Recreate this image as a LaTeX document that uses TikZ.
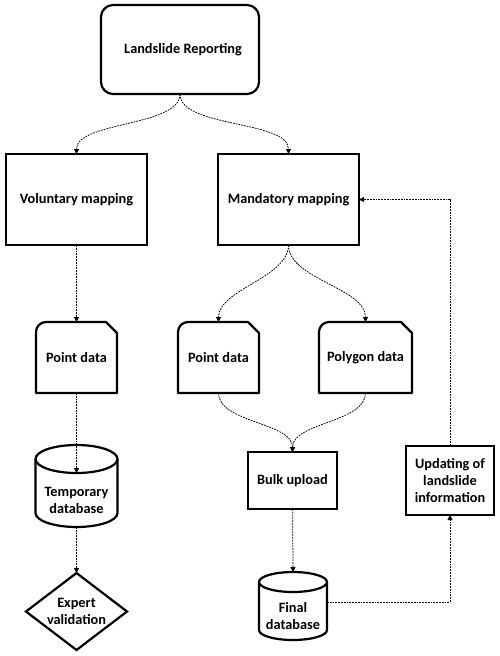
\documentclass[tikz,border=0pt]{standalone}
\usepackage{fontspec}
\setmainfont{Carlito}
\usepackage{tikz}
\usetikzlibrary{arrows.meta,shapes.geometric}

\begin{document}
\begin{tikzpicture}[x=1pt,y=1pt,
  base/.style={align=center,inner sep=0pt,outer sep=0pt,
               font=\bfseries\fontsize{14.3}{17}\selectfont},
  box/.style={base,draw,line width=2.2pt},
  startbox/.style={box,rounded corners=12pt,minimum width=158pt,minimum height=89pt},
  mapbox/.style={box,minimum width=141pt,minimum height=91pt},
  docnode/.style={base,minimum width=81pt,minimum height=71pt},
  dbnode/.style={base},
  decision/.style={box,diamond,aspect=1.3,minimum width=101pt,minimum height=77pt},
  outline/.style={line width=2.2pt,line join=round},
  arrow/.style={-{Triangle[length=5pt,width=5pt]},line width=0.75pt,
                dash pattern=on 1.8pt off 1pt}
]
\useasboundingbox (0,0) rectangle (500,-656);

% Reporting and the two mapping routes.
\node[startbox] (report) at (180,-49.5) {\hspace{6pt}Landslide Reporting};
\node[mapbox] (voluntary) at (76.5,-199.5) {Voluntary mapping};
\node[mapbox] (mandatory) at (288.5,-199.5) {Mandatory mapping};

% Data documents.
\node[docnode] (vpoint) at (76.5,-357.5) {Point data};
\node[docnode] (mpoint) at (218.5,-357.5) {Point data};
\node[docnode,minimum width=93pt] (poly) at (365.5,-357.5) {Polygon data};
\foreach \n in {vpoint,mpoint,poly}
  \draw[outline] (\n.south west) -- ([yshift=-10pt]\n.north west)
    arc[start angle=180,end angle=90,radius=10pt] -- ([xshift=-11pt]\n.north east)
    -- ([yshift=-11pt]\n.north east) -- (\n.south east) -- cycle;

% Databases, upload and checks.
\node[dbnode,minimum width=82pt,minimum height=54pt] (tempdb) at (76.5,-500)
  {Temporary\\database};
\node[dbnode,minimum width=68pt,minimum height=48pt] (finaldb) at (293,-616)
  {Final\\database};
\foreach \n/\rx/\ry in {tempdb/41/14,finaldb/34/10} {
  \draw[outline] ([yshift=\ry pt]\n.north west) -- ([yshift=\ry pt]\n.south west)
    arc[start angle=180,end angle=360,x radius=\rx,y radius=\ry]
    -- ([yshift=\ry pt]\n.north east);
  \draw[outline] ([yshift=\ry pt]\n.north) ellipse[x radius=\rx,y radius=\ry];
}
\node[box,minimum width=89pt,minimum height=57pt] (bulk) at (292.5,-480.5) {Bulk upload};
\node[box,minimum width=88pt,minimum height=69pt] (update) at (450,-480.5)
  {Updating of\\landslide\\information};
\node[decision] (expert) at (76.5,-611.5) {Expert\\validation};

% Flow.
\draw[arrow] (report.south) to[out=-90,in=90,looseness=0.7] (voluntary.north);
\draw[arrow] (report.south) to[out=-90,in=90,looseness=0.7] (mandatory.north);
\draw[arrow] (voluntary) -- (vpoint);
\draw[arrow] (vpoint) -- (tempdb.north);
\draw[arrow] (tempdb.south) -- (expert.north);
\draw[arrow] (mandatory.south) to[out=-90,in=90,looseness=0.8] (mpoint.north);
\draw[arrow] (mandatory.south) to[out=-90,in=90,looseness=0.8] (poly.north);
\draw[arrow] (mpoint.south) to[out=-90,in=90,looseness=0.8] (bulk.north);
\draw[arrow] (poly.south) to[out=-90,in=90,looseness=0.8] (bulk.north);
\draw[arrow] (bulk) -- ([yshift=20pt]finaldb.north);
\draw[arrow] ([yshift=14pt]finaldb.east) -| (update.south);
\draw[arrow] (update.north) |- (mandatory.east);
\end{tikzpicture}
\end{document}
